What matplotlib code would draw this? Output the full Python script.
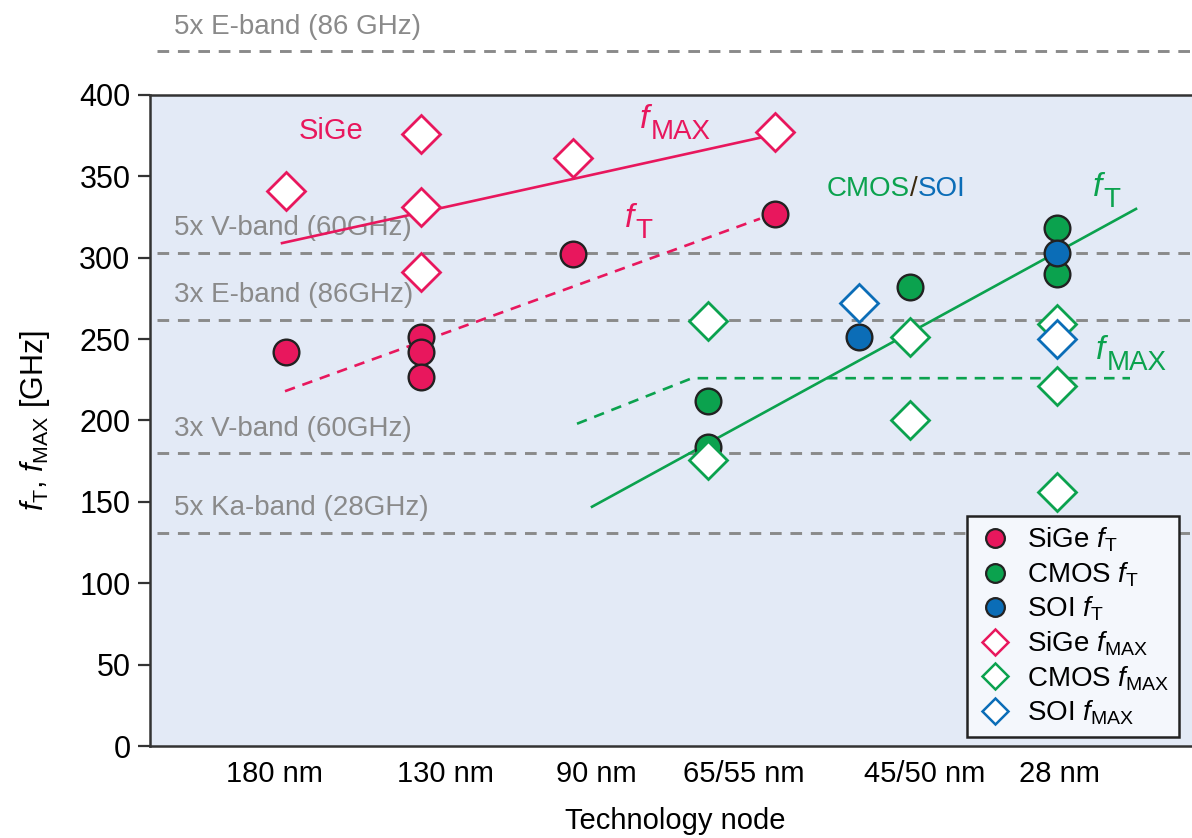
import matplotlib.pyplot as plt
from matplotlib.lines import Line2D

plt.rcParams['font.family'] = ['Liberation Sans', 'DejaVu Sans']
plt.rcParams['mathtext.fontset'] = 'custom'
plt.rcParams['mathtext.rm'] = 'Liberation Sans'
plt.rcParams['mathtext.it'] = 'Liberation Sans:italic'

# technology nodes (x position on a free "node" scale)
node_labels = ['180 nm', '130 nm', '90 nm', '65/55 nm', '45/50 nm', '28 nm']
node_ticks = [1.24, 2.95, 4.46, 5.94, 7.75, 9.09]

# measured points [GHz]
sige_ft_x = [1.36, 2.71, 2.71, 2.71, 4.23, 6.25]
sige_ft_y = [242, 251, 242, 227, 302, 327]
cmos_ft_x = [5.58, 5.58, 7.60, 9.07, 9.07]
cmos_ft_y = [212, 184, 282, 318, 290]
soi_ft_x = [7.09, 9.07]
soi_ft_y = [251, 303]
sige_fmax_x = [1.36, 2.71, 2.71, 2.71, 4.23, 6.25]
sige_fmax_y = [341, 376, 331, 291, 361, 377]
cmos_fmax_x = [5.58, 5.58, 7.60, 7.60, 9.07, 9.07, 9.07]
cmos_fmax_y = [261, 176, 251, 200, 259, 221, 156]
soi_fmax_x = [7.09, 9.07]
soi_fmax_y = [272, 250]

# trend lines
sige_fmax_fit_x = [1.32, 6.12]
sige_fmax_fit_y = [309, 374]
sige_ft_fit_x = [1.35, 6.10]
sige_ft_fit_y = [218, 324]
cmos_ft_fit_x = [4.42, 9.86]
cmos_ft_fit_y = [147, 330]
cmos_fmax_fit_x = [4.27, 5.42, 9.80]
cmos_fmax_fit_y = [198, 226, 226]

# band reference levels
band_levels = [427, 303, 262, 180, 131]
band_labels = ['5x E-band (86 GHz)', '5x V-band (60GHz)', '3x E-band (86GHz)',
               '3x V-band (60GHz)', '5x Ka-band (28GHz)']

RED = '#e8175d'
GREEN = '#0ba24e'
BLUE = '#0b6db7'
GRAY = '#8a8a8a'
EDGE = '#222222'


def f_label(ax, x, y, sub, color):
    # italic f with a large upright subscript, like the original artwork
    t = ax.text(x, y, 'f', color=color, fontsize=24, style='italic',
                ha='right', va='baseline')
    ax.annotate(sub, xy=(1.0, 0.0), xycoords=t, xytext=(1, -3),
                textcoords='offset points', color=color, fontsize=20,
                ha='left', va='baseline')


fig = plt.figure(figsize=(11.92, 8.38), dpi=100)
ax = fig.add_axes([150/1192, 92/838, 1050/1192, 651/838])
ax.set_xlim(0, 10.5)
ax.set_ylim(0, 400)
ax.set_facecolor('#e3eaf6')

for lev, lab in zip(band_levels, band_labels):
    ax.plot([0.07, 10.5], [lev, lev], ls=(0, (4, 3)), color=GRAY, lw=2.1,
            clip_on=False, zorder=1)
    ax.text(0.24, lev + 15, lab, color=GRAY, fontsize=20, va='center', zorder=1)

ax.plot(sige_fmax_fit_x, sige_fmax_fit_y, color=RED, lw=1.9, zorder=2)
ax.plot(sige_ft_fit_x, sige_ft_fit_y, color=RED, lw=1.9, ls=(0, (4, 3)), zorder=2)
ax.plot(cmos_ft_fit_x, cmos_ft_fit_y, color=GREEN, lw=1.9, zorder=2)
ax.plot(cmos_fmax_fit_x, cmos_fmax_fit_y, color=GREEN, lw=1.9, ls=(0, (4, 3)), zorder=2)

ms_c = 18.5
ms_d = 19
ax.plot(sige_ft_x, sige_ft_y, 'o', ms=ms_c, mfc=RED, mec=EDGE, mew=1.7, zorder=4)
ax.plot(cmos_ft_x, cmos_ft_y, 'o', ms=ms_c, mfc=GREEN, mec=EDGE, mew=1.7, zorder=4)
ax.plot(soi_ft_x, soi_ft_y, 'o', ms=ms_c, mfc=BLUE, mec=EDGE, mew=1.7, zorder=5)
ax.plot(sige_fmax_x, sige_fmax_y, 'D', ms=ms_d, mfc='white', mec=RED, mew=2, zorder=4)
ax.plot(cmos_fmax_x, cmos_fmax_y, 'D', ms=ms_d, mfc='white', mec=GREEN, mew=2, zorder=4)
ax.plot(soi_fmax_x, soi_fmax_y, 'D', ms=ms_d, mfc='white', mec=BLUE, mew=2, zorder=5)

ax.text(1.81, 378, 'SiGe', color=RED, fontsize=21, ha='center', va='center')
f_label(ax, 4.99, 380, 'MAX', RED)
f_label(ax, 4.84, 319, 'T', RED)
f_label(ax, 9.52, 338, 'T', GREEN)
f_label(ax, 9.55, 238, 'MAX', GREEN)

t1 = ax.text(7.60, 342, 'CMOS', color=GREEN, fontsize=20, ha='right', va='center')
t2 = ax.annotate('/', xy=(1.0, 0.5), xycoords=t1, color='#3a2a10', fontsize=20,
                 ha='left', va='center')
ax.annotate('SOI', xy=(1.0, 0.5), xycoords=t2, color=BLUE, fontsize=20,
            ha='left', va='center')

ax.set_xticks(node_ticks)
ax.set_xticklabels(node_labels, fontsize=21)
ax.tick_params(axis='x', length=0, pad=10)
ax.set_yticks(range(0, 401, 50))
ax.tick_params(axis='y', labelsize=22, length=9, width=1.6, color='#333333', pad=5)
ax.set_xlabel('Technology node', fontsize=21, labelpad=14)
ax.set_ylabel(r'$f_\mathrm{T}$, $f_\mathrm{MAX}$ [GHz]', fontsize=22, labelpad=20)

for s in ['left', 'top', 'bottom']:
    ax.spines[s].set_linewidth(1.8)
    ax.spines[s].set_color('#333333')
ax.spines['right'].set_visible(False)

handles = [
    Line2D([], [], ls='none', marker='o', ms=13.5, mfc=RED, mec=EDGE, mew=1.6),
    Line2D([], [], ls='none', marker='o', ms=13.5, mfc=GREEN, mec=EDGE, mew=1.6),
    Line2D([], [], ls='none', marker='o', ms=13.5, mfc=BLUE, mec=EDGE, mew=1.6),
    Line2D([], [], ls='none', marker='D', ms=13.5, mfc='white', mec=RED, mew=1.8),
    Line2D([], [], ls='none', marker='D', ms=13.5, mfc='white', mec=GREEN, mew=1.8),
    Line2D([], [], ls='none', marker='D', ms=13.5, mfc='white', mec=BLUE, mew=1.8),
]
labels = [r'SiGe $f_\mathrm{T}$', r'CMOS $f_\mathrm{T}$', r'SOI $f_\mathrm{T}$',
          r'SiGe $f_\mathrm{MAX}$', r'CMOS $f_\mathrm{MAX}$', r'SOI $f_\mathrm{MAX}$']
leg = fig.legend(handles, labels, loc='upper left', bbox_to_anchor=(967/1192, 1 - 516/838),
                 fontsize=20, frameon=True, fancybox=False, framealpha=1,
                 facecolor='#f4f7fc', edgecolor=EDGE, borderpad=0.35,
                 labelspacing=0.22, handletextpad=0.5, handlelength=1.3,
                 borderaxespad=0)
leg.get_frame().set_linewidth(1.8)

fig.savefig('out.png', dpi=100)
